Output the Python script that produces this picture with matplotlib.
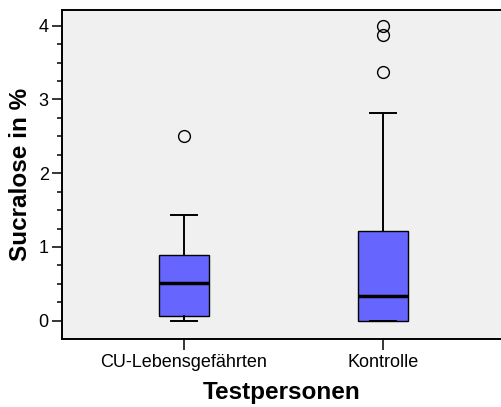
import matplotlib
matplotlib.use("Agg")
import matplotlib.pyplot as plt

plt.rcParams['font.family'] = ['Liberation Sans', 'DejaVu Sans']

categories = ["CU-Lebensgefährten", "Kontrolle"]
medians = [0.51, 0.33]
q1 = [0.064, 0.0]
q3 = [0.89, 1.21]
whisk_lo = [0.0, 0.0]
whisk_hi = [1.44, 2.82]
outliers = [[2.50], [3.37, 3.87, 3.99]]
yticks = [0, 1, 2, 3, 4]

stats = []
for i in range(len(categories)):
    stats.append(dict(med=medians[i], q1=q1[i], q3=q3[i],
                      whislo=whisk_lo[i], whishi=whisk_hi[i],
                      fliers=outliers[i], label=categories[i]))

fig = plt.figure(figsize=(5.02, 4.07), dpi=100)
ax = fig.add_axes([62/502, 1-338.5/407, 439/502, (338.5-10)/407])
ax.set_facecolor('#f0f0f0')

ax.bxp(stats, positions=[1, 2], widths=0.256, capwidths=0.126,
       patch_artist=True,
       boxprops=dict(facecolor='#6666ff', edgecolor='black', linewidth=1.0),
       medianprops=dict(color='black', linewidth=2.5),
       whiskerprops=dict(color='black', linewidth=1.4),
       capprops=dict(color='black', linewidth=1.4),
       flierprops=dict(marker='o', markerfacecolor='none', markeredgecolor='black',
                       markersize=8.5, markeredgewidth=1.0))

ax.set_xlim(0.387, 2.593)
ax.set_ylim(-0.241, 4.213)
ax.set_yticks(yticks)
ax.set_yticks([v/4 for v in range(0, 17)], minor=True)
ax.set_xticks([1, 2])
ax.set_xticklabels(categories, fontsize=13)
ax.tick_params(axis='y', which='major', length=7.5, width=1.1, labelsize=13, pad=2)
ax.tick_params(axis='y', which='minor', length=3.7, width=1.1)
ax.tick_params(axis='x', which='major', length=8, width=1.1, pad=3)
ax.tick_params(axis='x', which='minor', bottom=False)

ax.spines['right'].set_visible(False)
for s in ['left', 'top', 'bottom']:
    ax.spines[s].set_linewidth(1.4)

ax.set_xlabel("Testpersonen", fontsize=17.5, fontweight='bold', labelpad=7)
ax.set_ylabel("Sucralose in %", fontsize=17.5, fontweight='bold', labelpad=5)

fig.savefig("out.png", dpi=100)
